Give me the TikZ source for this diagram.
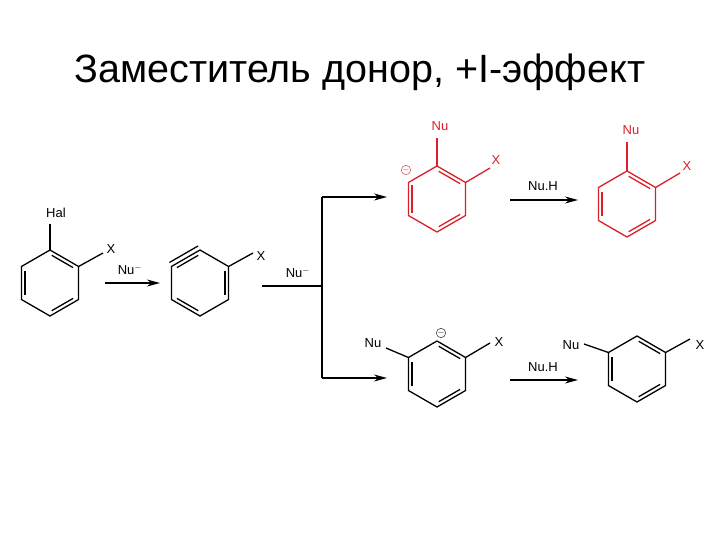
\documentclass[tikz,border=0pt]{standalone}
\usepackage{fontspec}
\setmainfont{Liberation Sans}
\usetikzlibrary{calc,arrows.meta}
\definecolor{rd}{RGB}{220,30,40}
\newcommand\hexring[4]{%
  \coordinate (#1c) at (#2,#3);
  \coordinate (#11) at ($(#1c)+(-90:33)$);
  \coordinate (#12) at ($(#1c)+(-30:33)$);
  \coordinate (#13) at ($(#1c)+(30:33)$);
  \coordinate (#14) at ($(#1c)+(90:33)$);
  \coordinate (#15) at ($(#1c)+(150:33)$);
  \coordinate (#16) at ($(#1c)+(210:33)$);
  \draw[bond,#4] (#11)--(#12)--(#13)--(#14)--(#15)--(#16)--cycle;}
\newcommand\dbl[5][.07]{%
  \draw[bond,#5] ($($(#2c)!.87!(#3)$)!#1!($(#2c)!.87!(#2#4)$)$) -- ($($(#2c)!.87!(#2#4)$)!#1!($(#2c)!.87!(#3)$)$);}
\tikzset{bond/.style={line width=1.3pt},
  lbl/.style={font=\fontsize{13}{14}\selectfont,inner sep=1pt},
  rxn/.style={line width=1.1pt,-{Stealth[length=13pt,width=7pt]}},
  mns/.style={circle,draw,inner sep=0pt,minimum size=9pt,font=\fontsize{9}{9}\selectfont}}
\begin{document}
\begin{tikzpicture}[x=1pt,y=-1pt]
\useasboundingbox (0,0) rectangle (720,540);
\node[font=\fontsize{39.5}{42}\selectfont] (title) at (360,72) {Заместитель донор, +I-эффект};
% ring 1
\hexring{a}{50}{283}{black}
\dbl{a}{a1}{2}{black}\dbl{a}{a3}{4}{black}\dbl{a}{a5}{6}{black}
\node[lbl] (hal) at (56,213) {Hal};
\draw[bond] (a1) -- (50,224);
\node[lbl] (ax) at (111,249) {X};
\draw[bond] (a2) -- (103,253);
% arrow 1
\coordinate (r1s) at (105,283); \coordinate (r1e) at (160,283);
\draw[rxn] (r1s) -- (r1e);
\node[lbl] (nu1) at (130,270) {Nu$^{-}$};
% ring 2 aryne
\hexring{b}{200}{283}{black}
\dbl{b}{b2}{3}{black}\dbl{b}{b4}{5}{black}
\draw[bond] ($(b6)+(-2,-4)$) -- ($(b1)+(-2,-4)$);
\dbl{b}{b6}{1}{black}
\node[lbl] (bx) at (261,256) {X};
\draw[bond] (b2) -- (253,253);
% branch
\coordinate (j0) at (262,286); \coordinate (j1) at (322,286);
\coordinate (jt) at (322,197); \coordinate (jb) at (322,378);
\coordinate (et) at (387,197); \coordinate (eb) at (387,378);
\draw[bond] (j0) -- (j1);
\draw[bond] (jt) -- (jb);
\draw[rxn] (jt) -- (et);
\draw[rxn] (jb) -- (eb);
\node[lbl] (nu2) at (298,273) {Nu$^{-}$};
% ring 3 red
\hexring{c}{437}{199}{rd}
\dbl{c}{c1}{2}{rd}\dbl{c}{c3}{4}{rd}\dbl[.02]{c}{c6}{5}{rd}
\draw[bond,rd] (c1) -- (437,138);
\node[lbl,rd] (cnu) at (440,126) {Nu};
\draw[bond,rd] (c2) -- (490,168);
\node[lbl,rd] (cx) at (496,160) {X};
\node[mns,rd] (cm) at (406,170) {$-$};
% arrow NuH top
\coordinate (r3s) at (510,200); \coordinate (r3e) at (578,200);
\draw[rxn] (r3s) -- (r3e);
\node[lbl] (nuh1) at (543,186) {Nu.H};
% ring 4 red
\hexring{d}{627}{204}{rd}
\dbl{d}{d1}{2}{rd}\dbl{d}{d3}{4}{rd}\dbl{d}{d5}{6}{rd}
\draw[bond,rd] (d1) -- (627,142);
\node[lbl,rd] (dnu) at (631,130) {Nu};
\draw[bond,rd] (d2) -- (680,173);
\node[lbl,rd] (dx) at (687,166) {X};
% ring 5
\hexring{e}{437}{374}{black}
\dbl{e}{e1}{2}{black}\dbl{e}{e3}{4}{black}\dbl{e}{e5}{6}{black}
\node[lbl] (enu) at (373,343) {Nu};
\draw[bond] (386,348) -- (e6);
\node[lbl] (ex) at (499,342) {X};
\draw[bond] (e2) -- (490,343);
\node[mns] (em) at (441,333) {$-$};
% arrow NuH bottom
\coordinate (r4s) at (510,380); \coordinate (r4e) at (578,380);
\draw[rxn] (r4s) -- (r4e);
\node[lbl] (nuh2) at (543,367) {Nu.H};
% ring 6
\hexring{f}{637}{369}{black}
\dbl{f}{f1}{2}{black}\dbl{f}{f3}{4}{black}\dbl{f}{f5}{6}{black}
\node[lbl] (fnu) at (571,345) {Nu};
\draw[bond] (584,344) -- (f6);
\node[lbl] (fx) at (700,345) {X};
\draw[bond] (f2) -- (690,339);
\end{tikzpicture}
\end{document}
